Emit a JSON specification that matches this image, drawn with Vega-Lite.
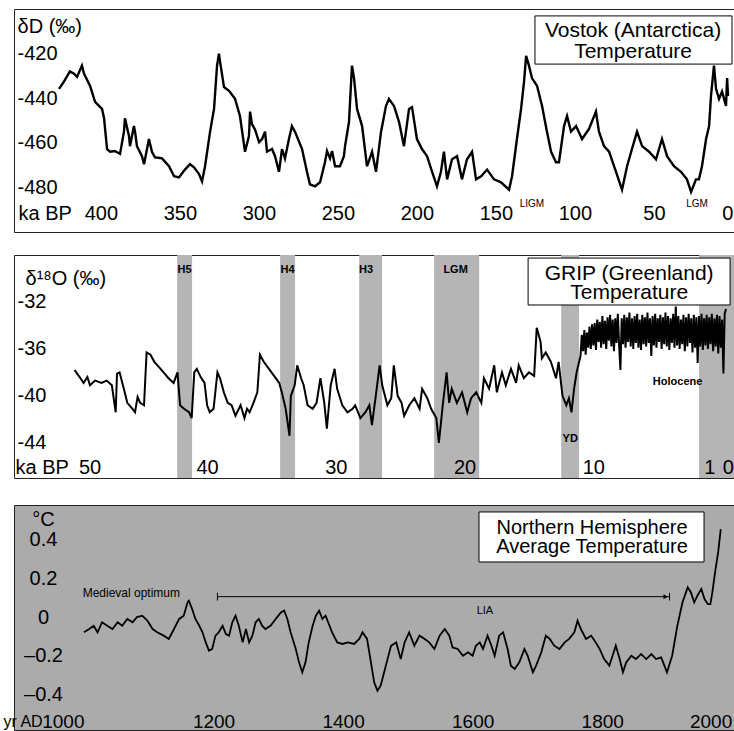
{
  "$schema": "https://vega.github.io/schema/vega-lite/v6.json",
  "padding": {"left": 2, "top": 8, "right": 1, "bottom": 0},
  "background": "#ffffff",
  "config": {
    "font": "Liberation Sans",
    "view": {"stroke": "#222222", "strokeWidth": 1},
    "axis": {"grid": false, "ticks": false, "tickSize": 0, "domain": false, "labelColor": "#000000", "titleColor": "#000000", "labelFontSize": 20, "titleFontSize": 20, "titleFontWeight": "normal", "labelOverlap": false, "labelFont": "Liberation Sans", "titleFont": "Liberation Sans"}
  },
  "spacing": 25,
  "vconcat": [
    {
      "spacing": 21,
      "vconcat": [
        {
          "width": 721, "height": 223,
          "layer": [
            {
              "data": {"values": [
                {"x":426.5,"y":-435.8},{"x":423.4,"y":-432.6},{"x":419.6,"y":-428},{"x":417.0,"y":-429},{"x":415.1,"y":-430.4},{"x":412.0,"y":-425.4},{"x":410.7,"y":-429},{"x":406.9,"y":-434.4},{"x":403.7,"y":-441.6},{"x":399.3,"y":-444.8},{"x":398.0,"y":-449},{"x":396.1,"y":-462.8},{"x":394.2,"y":-464},{"x":391.1,"y":-463.7},{"x":387.9,"y":-465},{"x":385.4,"y":-455},{"x":384.8,"y":-449},{"x":382.2,"y":-457},{"x":381.6,"y":-461.5},{"x":379.1,"y":-452.5},{"x":378.4,"y":-455},{"x":377.2,"y":-461.5},{"x":374.0,"y":-466},{"x":372.7,"y":-469.6},{"x":369.6,"y":-458.3},{"x":367.7,"y":-464},{"x":365.8,"y":-466.5},{"x":361.3,"y":-467},{"x":356.9,"y":-470.5},{"x":353.7,"y":-475},{"x":350.6,"y":-475.5},{"x":346.8,"y":-472},{"x":343.6,"y":-469.6},{"x":341.1,"y":-471},{"x":337.9,"y":-474},{"x":336.0,"y":-477.3},{"x":334.1,"y":-470.5},{"x":330.9,"y":-455},{"x":328.4,"y":-444.8},{"x":326.5,"y":-425.4},{"x":325.3,"y":-420},{"x":324.6,"y":-423.6},{"x":322.1,"y":-435},{"x":318.9,"y":-436.7},{"x":315.1,"y":-440.3},{"x":312.0,"y":-448},{"x":308.8,"y":-464},{"x":306.3,"y":-457},{"x":305.6,"y":-446},{"x":304.4,"y":-451.6},{"x":302.5,"y":-454},{"x":299.9,"y":-459.7},{"x":298.0,"y":-458.3},{"x":296.1,"y":-455},{"x":294.9,"y":-464},{"x":291.7,"y":-462.8},{"x":289.8,"y":-466},{"x":287.3,"y":-473},{"x":285.4,"y":-462.8},{"x":283.5,"y":-467},{"x":281.0,"y":-458.3},{"x":279.1,"y":-452.5},{"x":277.2,"y":-455},{"x":272.7,"y":-462.8},{"x":269.6,"y":-473},{"x":267.7,"y":-478.6},{"x":264.5,"y":-479.5},{"x":261.3,"y":-477.7},{"x":258.2,"y":-468.7},{"x":256.9,"y":-463.7},{"x":255.0,"y":-467},{"x":253.7,"y":-463.7},{"x":251.8,"y":-470.5},{"x":248.7,"y":-470.5},{"x":246.2,"y":-466},{"x":245.5,"y":-461.5},{"x":243.0,"y":-450.7},{"x":241.1,"y":-425.4},{"x":239.8,"y":-431},{"x":237.9,"y":-444.8},{"x":234.7,"y":-452.5},{"x":231.6,"y":-470.5},{"x":230.3,"y":-468},{"x":228.4,"y":-464},{"x":225.9,"y":-473},{"x":222.7,"y":-455},{"x":219.6,"y":-443.5},{"x":217.7,"y":-440.3},{"x":214.5,"y":-443.5},{"x":211.3,"y":-450.7},{"x":208.2,"y":-461.5},{"x":205.0,"y":-444.8},{"x":203.1,"y":-444},{"x":200.0,"y":-458.3},{"x":196.8,"y":-462.8},{"x":193.6,"y":-466},{"x":190.4,"y":-473},{"x":187.3,"y":-479.5},{"x":184.8,"y":-473},{"x":182.9,"y":-464},{"x":180.9,"y":-476.4},{"x":177.8,"y":-467.4},{"x":174.6,"y":-466},{"x":171.5,"y":-476.4},{"x":168.3,"y":-467.4},{"x":165.1,"y":-464},{"x":162.6,"y":-476.4},{"x":159.4,"y":-475},{"x":155.6,"y":-472},{"x":151.2,"y":-476.4},{"x":146.8,"y":-477.7},{"x":141.7,"y":-481},{"x":139.8,"y":-475},{"x":136.7,"y":-458.3},{"x":134.1,"y":-444.8},{"x":132.2,"y":-432.6},{"x":130.9,"y":-421},{"x":129.1,"y":-425.4},{"x":127.2,"y":-431},{"x":124.0,"y":-434.4},{"x":120.8,"y":-443.5},{"x":117.7,"y":-455},{"x":115.1,"y":-464},{"x":112.0,"y":-468.7},{"x":110.1,"y":-468.7},{"x":106.9,"y":-452.5},{"x":105.0,"y":-448},{"x":102.5,"y":-455},{"x":99.3,"y":-452.5},{"x":95.5,"y":-458.3},{"x":91.1,"y":-453.8},{"x":86.7,"y":-446},{"x":84.8,"y":-455},{"x":81.6,"y":-461.5},{"x":78.4,"y":-464},{"x":74.0,"y":-473},{"x":70.2,"y":-481},{"x":67.0,"y":-470.5},{"x":63.9,"y":-462.8},{"x":60.7,"y":-455},{"x":57.5,"y":-461.5},{"x":53.1,"y":-464},{"x":48.7,"y":-467.4},{"x":44.9,"y":-458.3},{"x":41.7,"y":-466},{"x":37.3,"y":-470.5},{"x":32.9,"y":-473},{"x":29.1,"y":-476.4},{"x":26.5,"y":-482},{"x":23.4,"y":-476.4},{"x":21.5,"y":-476.4},{"x":19.6,"y":-470.5},{"x":17.0,"y":-458.3},{"x":15.1,"y":-452.5},{"x":13.9,"y":-439},{"x":12.0,"y":-425.4},{"x":10.7,"y":-435.8},{"x":8.8,"y":-440.3},{"x":6.9,"y":-437},{"x":4.4,"y":-443.5},{"x":3.7,"y":-431},{"x":3.1,"y":-439}
              ]},
              "mark": {"type": "line", "color": "#000000", "strokeWidth": 2.4},
              "encoding": {
                "x": {"field": "x", "type": "quantitative", "scale": {"domain": [-1.3, 455], "reverse": true, "nice": false, "zero": false},
                  "axis": {"zindex": 1, "title": "ka BP", "values": [400, 350, 300, 250, 200, 150, 100, 50, 0], "labelPadding": -19, "labelBaseline": "middle", "labelAlign": {"condition": {"test": "datum.value == 0", "value": "right"}, "value": "center"}, "titleX": 4, "titleY": -19, "titleAlign": "left", "titleBaseline": "middle"}},
                "y": {"field": "y", "type": "quantitative", "scale": {"domain": [-500, -400], "nice": false, "zero": false},
                  "axis": {"zindex": 1, "title": "δD (‰)", "values": [-420, -440, -460, -480], "labelExpr": "toString(datum.value)", "labelAlign": "left", "labelPadding": -3, "titleAngle": 0, "titleX": 3, "titleY": 17, "titleAlign": "left", "titleBaseline": "middle"}}
              }
            },
            {
              "data": {"values": [{"x": 125.3, "x2": 0.6, "y": -403.1, "y2": -424.7}]},
              "mark": {"type": "rect", "fill": "#ffffff", "stroke": "#000000", "strokeWidth": 1},
              "encoding": {"x": {"field": "x", "type": "quantitative"}, "x2": {"field": "x2"}, "y": {"field": "y", "type": "quantitative"}, "y2": {"field": "y2"}}
            },
            {
              "data": {"values": [{"x": 63.2, "y": -412.4, "t": "Vostok (Antarctica)"}, {"x": 63.2, "y": -421.8, "t": "Temperature"}]},
              "mark": {"type": "text", "fontSize": 21, "align": "center", "baseline": "alphabetic", "color": "#000000"},
              "encoding": {"x": {"field": "x", "type": "quantitative"}, "y": {"field": "y", "type": "quantitative"}, "text": {"field": "t"}}
            },
            {
              "data": {"values": [{"x": 127.2, "y": -488.8, "t": "LIGM"}, {"x": 22.7, "y": -488.8, "t": "LGM"}]},
              "mark": {"type": "text", "fontSize": 10, "align": "center", "baseline": "alphabetic", "color": "#000000"},
              "encoding": {"x": {"field": "x", "type": "quantitative"}, "y": {"field": "y", "type": "quantitative"}, "text": {"field": "t"}}
            }
          ]
        },
        {
          "width": 721, "height": 223,
          "layer": [
            {
              "data": {"values": [
                {"x": 42.33, "x2": 41.17}, {"x": 34.33, "x2": 33.17}, {"x": 28.19, "x2": 26.41}, {"x": 22.37, "x2": 18.87}, {"x": 12.5, "x2": 11.11}, {"x": 1.79, "x2": -1.0}
              ]},
              "mark": {"type": "rect", "fill": "#b5b5b5"},
              "encoding": {
                "x": {"field": "x", "type": "quantitative", "scale": {"domain": [-1, 55], "reverse": true, "nice": false, "zero": false},
                  "axis": {"zindex": 1, "title": "ka BP", "values": [50, 40, 30, 20, 10, 1, 0], "labelPadding": -11, "labelBaseline": "middle", "labelAlign": {"condition": {"test": "datum.value == 50 || datum.value == 0", "value": "left"}, "value": "center"}, "titleX": 1, "titleY": -11, "titleAlign": "left", "titleBaseline": "middle"}},
                "x2": {"field": "x2"}
              }
            },
            {
              "data": {"values": [
                {"x":50.3,"y":-37.8},{"x":49.9,"y":-38.4},{"x":49.6,"y":-38.9},{"x":49.3,"y":-38.4},{"x":49.1,"y":-39.1},{"x":48.7,"y":-38.7},{"x":48.2,"y":-38.9},{"x":47.8,"y":-38.7},{"x":47.4,"y":-39.1},{"x":47.1,"y":-41.4},{"x":47.0,"y":-38.1},{"x":46.8,"y":-38.0},{"x":46.4,"y":-39.7},{"x":46.2,"y":-40.6},{"x":45.8,"y":-41.1},{"x":45.6,"y":-41.4},{"x":45.4,"y":-40.1},{"x":45.2,"y":-40.6},{"x":44.9,"y":-40.8},{"x":44.8,"y":-38.5},{"x":44.7,"y":-36.3},{"x":44.4,"y":-36.5},{"x":44.1,"y":-37.1},{"x":43.7,"y":-37.6},{"x":43.3,"y":-38.1},{"x":43.0,"y":-38.5},{"x":42.6,"y":-38.9},{"x":42.3,"y":-38.0},{"x":42.1,"y":-40.8},{"x":41.8,"y":-41.1},{"x":41.4,"y":-41.4},{"x":41.2,"y":-41.9},{"x":41.0,"y":-38.0},{"x":40.8,"y":-37.7},{"x":40.5,"y":-38.4},{"x":40.2,"y":-38.9},{"x":40.0,"y":-40.8},{"x":39.8,"y":-41.4},{"x":39.5,"y":-41.1},{"x":39.2,"y":-38.0},{"x":39.0,"y":-38.5},{"x":38.7,"y":-39.7},{"x":38.4,"y":-40.6},{"x":38.1,"y":-40.8},{"x":37.8,"y":-41.7},{"x":37.4,"y":-40.8},{"x":37.1,"y":-41.9},{"x":36.9,"y":-41.1},{"x":36.7,"y":-41.4},{"x":36.4,"y":-40.6},{"x":36.1,"y":-39.7},{"x":35.9,"y":-36.5},{"x":35.6,"y":-37.1},{"x":35.2,"y":-37.7},{"x":34.8,"y":-38.3},{"x":34.4,"y":-38.9},{"x":34.2,"y":-39.7},{"x":33.9,"y":-41.1},{"x":33.6,"y":-43.4},{"x":33.5,"y":-40.0},{"x":33.2,"y":-39.1},{"x":33.0,"y":-37.4},{"x":32.7,"y":-38.5},{"x":32.5,"y":-39.1},{"x":32.2,"y":-40.8},{"x":31.8,"y":-41.1},{"x":31.5,"y":-40.6},{"x":31.2,"y":-38.5},{"x":30.9,"y":-40.6},{"x":30.7,"y":-42.8},{"x":30.4,"y":-39.1},{"x":30.1,"y":-37.7},{"x":29.9,"y":-39.4},{"x":29.5,"y":-40.8},{"x":29.1,"y":-41.4},{"x":28.7,"y":-41.1},{"x":28.5,"y":-40.8},{"x":28.1,"y":-41.9},{"x":27.7,"y":-41.4},{"x":27.4,"y":-40.8},{"x":27.2,"y":-42.5},{"x":26.9,"y":-40.0},{"x":26.6,"y":-37.4},{"x":26.4,"y":-39.1},{"x":26.0,"y":-40.8},{"x":25.7,"y":-40.2},{"x":25.5,"y":-37.4},{"x":25.2,"y":-40.0},{"x":24.9,"y":-40.6},{"x":24.7,"y":-41.7},{"x":24.3,"y":-40.8},{"x":23.9,"y":-40.2},{"x":23.5,"y":-41.1},{"x":23.3,"y":-39.4},{"x":22.9,"y":-40.2},{"x":22.6,"y":-41.1},{"x":22.2,"y":-41.9},{"x":22.0,"y":-44.0},{"x":21.7,"y":-40.8},{"x":21.4,"y":-38.0},{"x":21.2,"y":-40.6},{"x":21.0,"y":-39.4},{"x":20.6,"y":-40.6},{"x":20.2,"y":-39.7},{"x":19.8,"y":-41.4},{"x":19.5,"y":-40.2},{"x":19.1,"y":-39.7},{"x":18.7,"y":-40.6},{"x":18.5,"y":-38.5},{"x":18.1,"y":-39.4},{"x":17.7,"y":-37.4},{"x":17.5,"y":-39.7},{"x":17.1,"y":-38.0},{"x":16.8,"y":-39.1},{"x":16.4,"y":-37.7},{"x":16.0,"y":-38.9},{"x":15.8,"y":-37.4},{"x":15.4,"y":-38.5},{"x":15.0,"y":-38.0},{"x":14.6,"y":-38.3},{"x":14.4,"y":-34.2},{"x":14.1,"y":-35.4},{"x":14.0,"y":-36.8},{"x":13.7,"y":-36.3},{"x":13.3,"y":-37.1},{"x":12.9,"y":-38.5},{"x":12.7,"y":-37.1},{"x":12.4,"y":-40.0},{"x":12.1,"y":-40.8},{"x":11.9,"y":-40.2},{"x":11.7,"y":-41.4},{"x":11.5,"y":-39.4},{"x":11.3,"y":-38.0},
                {"x":11.0,"y":-36.6},{"x":10.9,"y":-34.8},{"x":10.8,"y":-36.2},{"x":10.7,"y":-34.4},{"x":10.6,"y":-36.5},{"x":10.5,"y":-34.6},{"x":10.4,"y":-35.9},{"x":10.3,"y":-34.1},{"x":10.2,"y":-36.0},{"x":10.1,"y":-33.9},{"x":10.0,"y":-35.7},{"x":9.9,"y":-33.8},{"x":9.8,"y":-36.1},{"x":9.7,"y":-33.5},{"x":9.6,"y":-35.4},{"x":9.5,"y":-33.7},{"x":9.4,"y":-35.9},{"x":9.3,"y":-33.2},{"x":9.2,"y":-35.6},{"x":9.1,"y":-33.6},{"x":9.0,"y":-36.0},{"x":8.9,"y":-33.3},{"x":8.8,"y":-35.3},{"x":8.7,"y":-33.1},{"x":8.6,"y":-35.8},{"x":8.5,"y":-33.5},{"x":8.4,"y":-36.2},{"x":8.3,"y":-33.4},{"x":8.2,"y":-35.5},{"x":8.1,"y":-33.0},{"x":8.0,"y":-35.7},{"x":7.9,"y":-37.8},{"x":7.8,"y":-33.4},{"x":7.7,"y":-35.6},{"x":7.6,"y":-33.1},{"x":7.5,"y":-35.9},{"x":7.4,"y":-33.3},{"x":7.3,"y":-35.4},{"x":7.2,"y":-32.9},{"x":7.1,"y":-35.8},{"x":7.0,"y":-33.4},{"x":6.9,"y":-36.0},{"x":6.8,"y":-33.2},{"x":6.7,"y":-35.5},{"x":6.6,"y":-33.0},{"x":6.5,"y":-35.9},{"x":6.4,"y":-33.5},{"x":6.3,"y":-36.1},{"x":6.2,"y":-33.1},{"x":6.1,"y":-35.6},{"x":6.0,"y":-33.3},{"x":5.9,"y":-35.8},{"x":5.8,"y":-32.9},{"x":5.7,"y":-35.5},{"x":5.6,"y":-33.4},{"x":5.5,"y":-36.6},{"x":5.4,"y":-33.2},{"x":5.3,"y":-35.7},{"x":5.2,"y":-33.0},{"x":5.1,"y":-35.9},{"x":5.0,"y":-33.4},{"x":4.9,"y":-35.4},{"x":4.8,"y":-33.1},{"x":4.7,"y":-36.0},{"x":4.6,"y":-33.3},{"x":4.5,"y":-35.6},{"x":4.4,"y":-32.9},{"x":4.3,"y":-35.8},{"x":4.2,"y":-33.2},{"x":4.1,"y":-36.1},{"x":4.0,"y":-33.4},{"x":3.9,"y":-35.5},{"x":3.8,"y":-33.0},{"x":3.7,"y":-35.9},{"x":3.6,"y":-32.4},{"x":3.5,"y":-35.7},{"x":3.4,"y":-33.2},{"x":3.3,"y":-36.0},{"x":3.2,"y":-33.5},{"x":3.1,"y":-35.6},{"x":3.0,"y":-33.1},{"x":2.9,"y":-36.2},{"x":2.8,"y":-33.3},{"x":2.7,"y":-35.8},{"x":2.6,"y":-33.0},{"x":2.5,"y":-35.5},{"x":2.4,"y":-33.4},{"x":2.3,"y":-36.3},{"x":2.2,"y":-33.1},{"x":2.1,"y":-35.9},{"x":2.0,"y":-33.3},{"x":1.9,"y":-37.2},{"x":1.8,"y":-33.2},{"x":1.7,"y":-35.8},{"x":1.6,"y":-33.0},{"x":1.5,"y":-36.1},{"x":1.4,"y":-33.4},{"x":1.3,"y":-35.7},{"x":1.2,"y":-33.1},{"x":1.1,"y":-36.0},{"x":1.0,"y":-33.3},{"x":0.9,"y":-35.6},{"x":0.8,"y":-33.0},{"x":0.7,"y":-36.2},{"x":0.6,"y":-33.4},{"x":0.5,"y":-35.8},{"x":0.4,"y":-33.1},{"x":0.3,"y":-36.4},{"x":0.2,"y":-33.2},{"x":0.1,"y":-35.9},{"x":0.0,"y":-33.5},{"x":-0.1,"y":-38.1},{"x":-0.2,"y":-33.0},{"x":-0.3,"y":-32.6}
              ]},
              "mark": {"type": "line", "color": "#000000", "strokeWidth": 2},
              "encoding": {
                "x": {"field": "x", "type": "quantitative"},
                "y": {"field": "y", "type": "quantitative", "scale": {"domain": [-47, -28], "nice": false, "zero": false},
                  "axis": {"zindex": 1, "title": "δ¹⁸O (‰)", "values": [-32, -36, -40, -44], "labelExpr": "toString(datum.value)", "labelAlign": "left", "labelPadding": -3, "titleAngle": 0, "titleX": 11, "titleY": 23, "titleAlign": "left", "titleBaseline": "middle"}}
              }
            },
            {
              "data": {"values": [{"x": 15.07, "x2": -0.62, "y": -28.26, "y2": -32.26}]},
              "mark": {"type": "rect", "fill": "#ffffff", "stroke": "#000000", "strokeWidth": 1},
              "encoding": {"x": {"field": "x", "type": "quantitative"}, "x2": {"field": "x2"}, "y": {"field": "y", "type": "quantitative"}, "y2": {"field": "y2"}}
            },
            {
              "data": {"values": [{"x": 7.22, "y": -30.1, "t": "GRIP (Greenland)"}, {"x": 7.22, "y": -31.72, "t": "Temperature"}]},
              "mark": {"type": "text", "fontSize": 21, "align": "center", "baseline": "alphabetic", "color": "#000000"},
              "encoding": {"x": {"field": "x", "type": "quantitative"}, "y": {"field": "y", "type": "quantitative"}, "text": {"field": "t"}}
            },
            {
              "data": {"values": [
                {"x": 41.75, "y": -29.53, "t": "H5"}, {"x": 33.75, "y": -29.53, "t": "H4"}, {"x": 27.65, "y": -29.53, "t": "H3"}, {"x": 20.7, "y": -29.53, "t": "LGM"}, {"x": 11.8, "y": -43.9, "t": "YD"}, {"x": 3.46, "y": -39.07, "t": "Holocene"}
              ]},
              "mark": {"type": "text", "fontSize": 11, "fontWeight": "bold", "align": "center", "baseline": "alphabetic", "color": "#000000"},
              "encoding": {"x": {"field": "x", "type": "quantitative"}, "y": {"field": "y", "type": "quantitative"}, "text": {"field": "t"}}
            }
          ]
        }
      ]
    },
    {
      "width": 721, "height": 225,
      "view": {"fill": "#ababab"},
      "layer": [
        {
          "data": {"values": [
            {"x":1000,"y":-0.079},{"x":1008,"y":-0.062},{"x":1015,"y":-0.045},{"x":1021,"y":-0.079},{"x":1028,"y":-0.027},{"x":1036,"y":-0.045},{"x":1044,"y":-0.062},{"x":1052,"y":-0.027},{"x":1059,"y":-0.045},{"x":1067,"y":-0.010},{"x":1075,"y":-0.027},{"x":1082,"y":0.0},{"x":1090,"y":0.007},{"x":1098,"y":-0.019},{"x":1106,"y":-0.062},{"x":1113,"y":-0.079},{"x":1123,"y":-0.096},{"x":1131,"y":-0.113},{"x":1139,"y":-0.062},{"x":1147,"y":-0.010},{"x":1154,"y":0.007},{"x":1160,"y":0.076},{"x":1162,"y":0.084},{"x":1167,"y":0.041},{"x":1172,"y":-0.010},{"x":1178,"y":-0.045},{"x":1183,"y":-0.079},{"x":1188,"y":-0.131},{"x":1193,"y":-0.174},{"x":1198,"y":-0.165},{"x":1203,"y":-0.096},{"x":1208,"y":-0.079},{"x":1214,"y":-0.045},{"x":1219,"y":-0.088},{"x":1224,"y":-0.096},{"x":1229,"y":-0.027},{"x":1234,"y":0.007},{"x":1239,"y":-0.045},{"x":1245,"y":-0.131},{"x":1250,"y":-0.062},{"x":1255,"y":-0.131},{"x":1260,"y":-0.096},{"x":1265,"y":-0.027},{"x":1270,"y":-0.010},{"x":1275,"y":-0.045},{"x":1280,"y":-0.062},{"x":1288,"y":-0.045},{"x":1296,"y":-0.010},{"x":1304,"y":0.024},{"x":1309,"y":0.033},{"x":1314,"y":-0.010},{"x":1319,"y":-0.079},{"x":1327,"y":-0.165},{"x":1332,"y":-0.234},{"x":1337,"y":-0.285},{"x":1342,"y":-0.234},{"x":1347,"y":-0.131},{"x":1353,"y":-0.045},{"x":1358,"y":0.007},{"x":1363,"y":0.033},{"x":1368,"y":-0.010},{"x":1373,"y":0.007},{"x":1378,"y":-0.036},{"x":1383,"y":-0.079},{"x":1391,"y":-0.131},{"x":1399,"y":-0.139},{"x":1407,"y":-0.131},{"x":1417,"y":-0.139},{"x":1425,"y":-0.113},{"x":1430,"y":-0.079},{"x":1437,"y":-0.113},{"x":1443,"y":-0.234},{"x":1448,"y":-0.337},{"x":1453,"y":-0.380},{"x":1458,"y":-0.354},{"x":1466,"y":-0.251},{"x":1474,"y":-0.148},{"x":1482,"y":-0.131},{"x":1489,"y":-0.217},{"x":1495,"y":-0.131},{"x":1502,"y":-0.079},{"x":1510,"y":-0.148},{"x":1518,"y":-0.096},{"x":1526,"y":-0.113},{"x":1533,"y":-0.131},{"x":1541,"y":-0.165},{"x":1549,"y":-0.096},{"x":1557,"y":-0.062},{"x":1564,"y":-0.096},{"x":1569,"y":-0.157},{"x":1577,"y":-0.165},{"x":1585,"y":-0.200},{"x":1593,"y":-0.182},{"x":1600,"y":-0.200},{"x":1605,"y":-0.148},{"x":1611,"y":-0.131},{"x":1616,"y":-0.165},{"x":1623,"y":-0.096},{"x":1629,"y":-0.148},{"x":1634,"y":-0.200},{"x":1641,"y":-0.096},{"x":1647,"y":-0.079},{"x":1654,"y":-0.165},{"x":1659,"y":-0.251},{"x":1665,"y":-0.268},{"x":1672,"y":-0.234},{"x":1680,"y":-0.165},{"x":1685,"y":-0.200},{"x":1693,"y":-0.285},{"x":1698,"y":-0.251},{"x":1706,"y":-0.182},{"x":1713,"y":-0.096},{"x":1719,"y":-0.113},{"x":1726,"y":-0.148},{"x":1734,"y":-0.165},{"x":1742,"y":-0.131},{"x":1749,"y":-0.113},{"x":1757,"y":-0.079},{"x":1762,"y":-0.019},{"x":1767,"y":-0.062},{"x":1775,"y":-0.113},{"x":1783,"y":-0.096},{"x":1790,"y":-0.131},{"x":1796,"y":-0.165},{"x":1803,"y":-0.217},{"x":1811,"y":-0.251},{"x":1816,"y":-0.200},{"x":1821,"y":-0.148},{"x":1827,"y":-0.217},{"x":1832,"y":-0.285},{"x":1837,"y":-0.234},{"x":1845,"y":-0.200},{"x":1852,"y":-0.217},{"x":1860,"y":-0.191},{"x":1868,"y":-0.217},{"x":1876,"y":-0.191},{"x":1883,"y":-0.217},{"x":1891,"y":-0.208},{"x":1900,"y":-0.285},{"x":1908,"y":-0.200},{"x":1916,"y":-0.045},{"x":1924,"y":0.076},{"x":1932,"y":0.153},{"x":1937,"y":0.127},{"x":1942,"y":0.076},{"x":1947,"y":0.110},{"x":1953,"y":0.145},{"x":1958,"y":0.093},{"x":1963,"y":0.067},{"x":1967,"y":0.067},{"x":1970,"y":0.127},{"x":1975,"y":0.248},{"x":1979,"y":0.334},{"x":1983,"y":0.454}
          ]},
          "mark": {"type": "line", "color": "#000000", "strokeWidth": 1.8},
          "encoding": {
            "x": {"field": "x", "type": "quantitative", "scale": {"domain": [892, 2005], "nice": false, "zero": false},
              "axis": {"zindex": 1, "title": "yr AD", "values": [1000, 1200, 1400, 1600, 1800, 2000], "labelExpr": "toString(datum.value)", "labelFontSize": 19, "titleFontSize": 16, "labelPadding": -9, "labelBaseline": "middle", "labelAlign": {"condition": {"test": "datum.value == 1000 || datum.value == 2000", "value": "right"}, "value": "center"}, "titleX": -11, "titleY": -9, "titleAlign": "left", "titleBaseline": "middle"}},
            "y": {"field": "y", "type": "quantitative", "scale": {"domain": [-0.583, 0.578], "nice": false, "zero": false},
              "axis": {"zindex": 1, "title": "°C", "values": [0.4, 0.2, 0, -0.2, -0.4], "labelExpr": "datum.value < 0 ? '–' + format(-datum.value, '.1f') : (datum.value == 0 ? '0' : format(datum.value, '.1f'))", "labelAlign": "center", "labelPadding": -29, "titleAngle": 0, "titleX": 29, "titleY": 14, "titleAlign": "center", "titleBaseline": "middle"}}
          }
        },
        {
          "data": {"values": [{"x": 1206, "x2": 1904, "y": 0.105}]},
          "mark": {"type": "rule", "color": "#000000", "strokeWidth": 1},
          "encoding": {"x": {"field": "x", "type": "quantitative"}, "x2": {"field": "x2"}, "y": {"field": "y", "type": "quantitative"}}
        },
        {
          "data": {"values": [{"x": 1206, "y": 0.085, "y2": 0.125}, {"x": 1904, "y": 0.085, "y2": 0.125}]},
          "mark": {"type": "rule", "color": "#000000", "strokeWidth": 1},
          "encoding": {"x": {"field": "x", "type": "quantitative"}, "y": {"field": "y", "type": "quantitative"}, "y2": {"field": "y2"}}
        },
        {
          "data": {"values": [{"x": 1898, "y": 0.105}]},
          "mark": {"type": "point", "shape": "triangle-right", "filled": true, "color": "#000000", "size": 25, "opacity": 1},
          "encoding": {"x": {"field": "x", "type": "quantitative"}, "y": {"field": "y", "type": "quantitative"}}
        },
        {
          "data": {"values": [{"x": 998, "y": 0.103, "t": "Medieval optimum"}]},
          "mark": {"type": "text", "fontSize": 12, "align": "left", "baseline": "alphabetic", "color": "#000000"},
          "encoding": {"x": {"field": "x", "type": "quantitative"}, "y": {"field": "y", "type": "quantitative"}, "text": {"field": "t"}}
        },
        {
          "data": {"values": [{"x": 1619, "y": 0.015, "t": "LIA"}]},
          "mark": {"type": "text", "fontSize": 11, "align": "center", "baseline": "alphabetic", "color": "#000000"},
          "encoding": {"x": {"field": "x", "type": "quantitative"}, "y": {"field": "y", "type": "quantitative"}, "text": {"field": "t"}}
        },
        {
          "data": {"values": [{"x": 1609.8, "x2": 1957.2, "y": 0.542, "y2": 0.284}]},
          "mark": {"type": "rect", "fill": "#ffffff", "stroke": "#000000", "strokeWidth": 1},
          "encoding": {"x": {"field": "x", "type": "quantitative"}, "x2": {"field": "x2"}, "y": {"field": "y", "type": "quantitative"}, "y2": {"field": "y2"}}
        },
        {
          "data": {"values": [{"x": 1784.3, "y": 0.43, "t": "Northern Hemisphere"}, {"x": 1784.3, "y": 0.332, "t": "Average Temperature"}]},
          "mark": {"type": "text", "fontSize": 20, "align": "center", "baseline": "alphabetic", "color": "#000000"},
          "encoding": {"x": {"field": "x", "type": "quantitative"}, "y": {"field": "y", "type": "quantitative"}, "text": {"field": "t"}}
        }
      ]
    }
  ]
}
